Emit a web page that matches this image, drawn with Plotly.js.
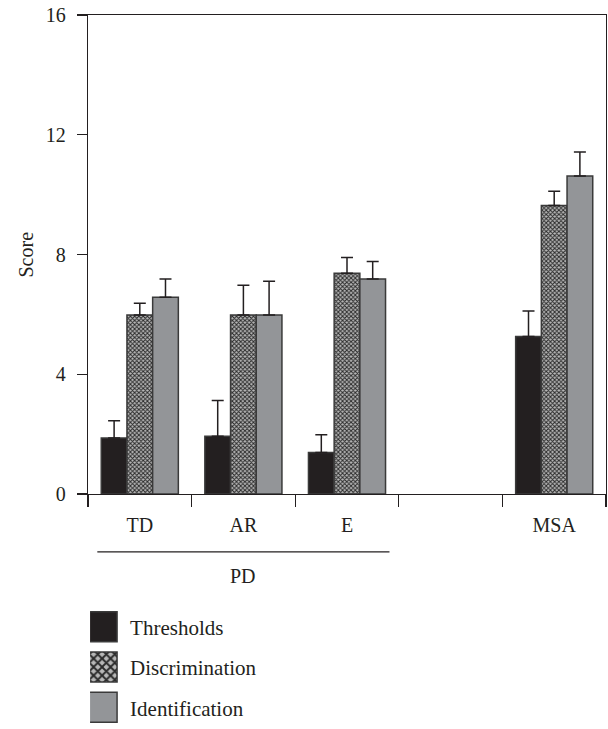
<!DOCTYPE html>
<html>
<head>
<meta charset="utf-8">
<script src="https://cdn.plot.ly/plotly-3.0.1.min.js"></script>
<style>
  html, body { margin: 0; padding: 0; background: #ffffff; }
  #chart { width: 608px; height: 729px; }
</style>
</head>
<body>
<div id="chart"></div>
<script>
// ---- data ----
const groups = ['TD', 'AR', 'E', ' ', 'MSA'];

const thresholds      = [1.87, 1.93, 1.39, null, 5.26];
const thresholdsErr   = [0.58, 1.19, 0.59, null, 0.85];

const discrimination    = [5.98, 5.98, 7.37, null, 9.64];
const discriminationErr = [0.39, 0.99, 0.53, null, 0.47];

const identification    = [6.57, 5.98, 7.18, null, 10.62];
const identificationErr = [0.61, 1.13, 0.59, null, 0.80];

const seriesNames = ['Thresholds', 'Discrimination', 'Identification'];
const yTicks = [0, 4, 8, 12, 16];
const yTitle = 'Score';
const groupLabel = 'PD';

// ---- styles ----
const FONT = '"Liberation Serif", "Times New Roman", serif';
const INK = '#231f20';
const outline = { color: '#3a3a3a', width: 1.5 };

function errBars(arr) {
  return {
    type: 'data', symmetric: false, array: arr,
    arrayminus: arr.map(v => (v == null ? null : 0)),
    color: INK, thickness: 1.5, width: 6
  };
}

const data = [
  {
    type: 'bar', name: seriesNames[0], x: groups, y: thresholds,
    marker: { color: INK, line: outline },
    error_y: errBars(thresholdsErr), legendgroup: 'a'
  },
  {
    type: 'bar', name: seriesNames[1], x: groups, y: discrimination,
    marker: {
      color: '#9a9a9a', line: outline,
      pattern: { shape: 'x', size: 3, solidity: 0.55, fgcolor: '#2a2a2a', bgcolor: '#b8b8b8', fillmode: 'replace' }
    },
    error_y: errBars(discriminationErr), legendgroup: 'b'
  },
  {
    type: 'bar', name: seriesNames[2], x: groups, y: identification,
    marker: { color: '#939598', line: outline },
    error_y: errBars(identificationErr), legendgroup: 'c'
  }
];

const layout = {
  width: 608, height: 729,
  margin: { l: 88, r: 2, t: 15, b: 228, pad: 0 },
  paper_bgcolor: '#ffffff', plot_bgcolor: '#ffffff',
  font: { family: FONT, size: 20, color: INK },
  barmode: 'group', bargap: 0.256, bargroupgap: 0,
  showlegend: true,
  legend: {
    orientation: 'v', x: 0.004, xanchor: 'left', y: -0.235, yanchor: 'top',
    font: { family: FONT, size: 21, color: INK },
    tracegroupgap: 10, bgcolor: 'rgba(0,0,0,0)', itemwidth: 30
  },
  xaxis: {
    type: 'category', tickson: 'boundaries', ticks: 'outside', ticklen: 12,
    tickwidth: 1.2, tickcolor: INK, showline: true, linecolor: INK, linewidth: 1.2,
    mirror: true, showgrid: false, zeroline: false, fixedrange: true,
    tickfont: { family: FONT, size: 20, color: INK }, ticklabelstandoff: 13
  },
  yaxis: {
    range: [0, 16], tickmode: 'array', tickvals: yTicks,
    ticks: 'outside', ticklen: 10, tickwidth: 1.2, tickcolor: INK,
    showline: true, linecolor: INK, linewidth: 1.2, mirror: true,
    showgrid: false, zeroline: false, fixedrange: true,
    tickfont: { family: FONT, size: 20, color: INK }, ticklabelstandoff: 7
  },
  shapes: [
    { type: 'line', xref: 'x', yref: 'paper', x0: -0.41, x1: 2.41, y0: -0.121, y1: -0.121,
      line: { color: INK, width: 1.2 } }
  ],
  annotations: [
    { text: groupLabel, xref: 'x', yref: 'paper', x: 1, y: -0.171, showarrow: false,
      font: { family: FONT, size: 20, color: INK }, xanchor: 'center', yanchor: 'middle' },
    { text: yTitle, xref: 'paper', yref: 'paper', x: -0.1216, y: 0.5, showarrow: false,
      textangle: -90, font: { family: FONT, size: 20, color: INK }, xanchor: 'center', yanchor: 'middle' }
  ]
};

Plotly.newPlot('chart', data, layout, { staticPlot: true, displayModeBar: false }).then(gd => {
  // enlarge legend swatches to match the reference's big square keys
  gd.querySelectorAll('.legend .legendpoints path').forEach(p => {
    const t = p.getAttribute('transform') || '';
    p.setAttribute('transform', 'translate(-8,0) ' + t + ' scale(2.5)');
    p.setAttribute('vector-effect', 'non-scaling-stroke');
  });
});
</script>
</body>
</html>
